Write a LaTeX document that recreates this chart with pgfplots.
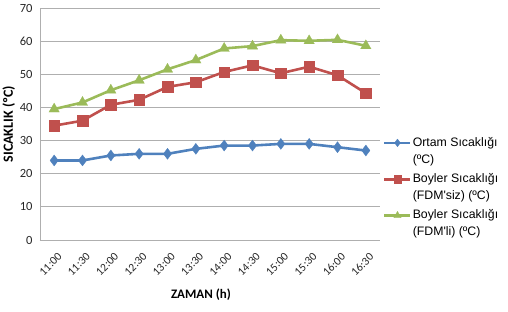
\documentclass[border=0pt]{standalone}
\usepackage{fontspec}
\setmainfont{Carlito}
\newfontfamily\arialf{Liberation Sans}
\usepackage{pgfplots}
\pgfplotsset{compat=1.18}
\definecolor{cblue}{HTML}{4F81BD}
\definecolor{cred}{HTML}{C0504D}
\definecolor{cgreen}{HTML}{9BBB59}
\definecolor{cgrid}{HTML}{AFAFAF}
\begin{document}
\begin{tikzpicture}
\path[use as bounding box] (-40bp,-72bp) rectangle (468bp,240bp);
\begin{axis}[
  at={(0,0)}, anchor=south west,
  scale only axis, width=340bp, height=232bp,
  xmin=-0.5, xmax=11.5, ymin=0, ymax=70,
  xtick={0,...,11},
  xticklabels={11:00,11:30,12:00,12:30,13:00,13:30,14:00,14:30,15:00,15:30,16:00,16:30},
  xticklabel style={yshift=-12bp, xshift=3bp, rotate=45, anchor=north east, font=\fontsize{11.5bp}{12bp}\selectfont, inner sep=0pt, text=black!85},
  ytick={0,10,...,70},
  yticklabel style={font=\fontsize{12.5bp}{14bp}\selectfont, text=black!85, xshift=-4bp},
  /pgf/number format/assume math mode=true,
  ymajorgrids, grid style={cgrid, line width=0.9pt},
  axis x line*=bottom, axis y line*=left,
  axis line style={cgrid, line width=0.9pt},
  x axis line style={-}, y axis line style={-},
  major tick length=0pt,
  xlabel={\textbf{ZAMAN (h)}},
  ylabel={\textbf{SICAKLIK (ºC)}},
  xlabel style={font=\fontsize{13bp}{14bp}\selectfont, xshift=-9bp, yshift=-9bp},
  ylabel style={font=\fontsize{14bp}{14bp}\selectfont, yshift=-2bp},
  legend style={draw=none, fill=none, at={(1.0,0.457)}, anchor=north west,
    font=\arialf\fontsize{12.3bp}{16.8bp}\selectfont, nodes={align=left, inner sep=1pt}, row sep=7bp},
  legend cell align=left,
  legend image code/.code={
    \draw[#1, mark repeat=2, mark phase=2, every mark/.append style={scale=0.7}, yshift=8bp] plot coordinates {(0bp,0bp) (13bp,0bp) (26bp,0bp)};},
]
\addplot[cblue, line width=2.6pt, mark=diamond*, mark size=5.5bp, mark options={line width=0.3pt}] coordinates {
(0,24) (1,24) (2,25.5) (3,26) (4,26) (5,27.5) (6,28.5) (7,28.5) (8,29) (9,29) (10,28) (11,27)};
\addlegendentry{Ortam Sıcaklığı\\(ºC)}
\addplot[cred, line width=2.6pt, mark=square*, mark size=5.3bp, mark options={line width=0.3pt}] coordinates {
(0,34.5) (1,36) (2,40.8) (3,42.3) (4,46.2) (5,47.6) (6,50.7) (7,52.7) (8,50.3) (9,52.3) (10,49.7) (11,44.3)};
\addlegendentry{Boyler Sıcaklığı\\(FDM'siz) (ºC)}
\addplot[cgreen, line width=2.6pt, mark=triangle*, mark size=6bp, mark options={line width=0.3pt}] coordinates {
(0,39.5) (1,41.5) (2,45.2) (3,48.2) (4,51.5) (5,54.3) (6,57.8) (7,58.5) (8,60.3) (9,60.1) (10,60.4) (11,58.6)};
\addlegendentry{Boyler Sıcaklığı\\(FDM'li) (ºC)}
\end{axis}
\end{tikzpicture}
\end{document}
